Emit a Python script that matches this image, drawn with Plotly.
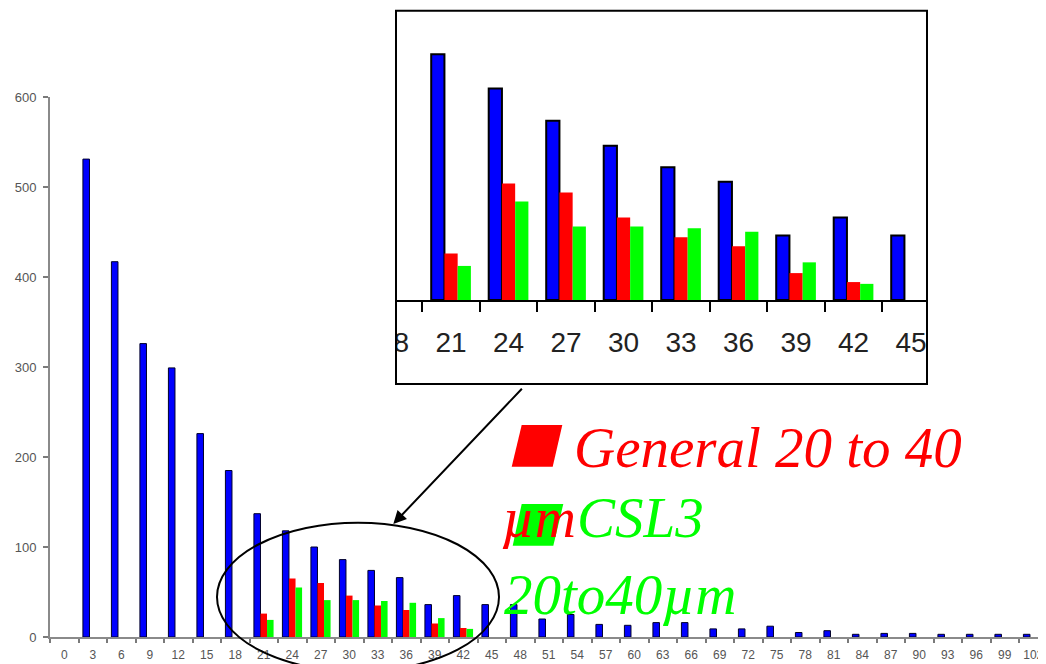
import plotly.graph_objects as go

# ---------------- data ----------------
categories = ["0", "3", "6", "9", "12", "15", "18", "21", "24", "27", "30", "33",
              "36", "39", "42", "45", "48", "51", "54", "57", "60", "63", "66",
              "69", "72", "75", "78", "81", "84", "87", "90", "93", "96", "99", "102"]

blue_values = [None, 531, 417, 326, 299, 226, 185, 137, 118, 100, 86, 74,
               66, 36, 46, 36, 36, 20, 25, 14, 13, 16, 16,
               9, 9, 12, 5, 7, 3, 4, 4, 3, 3, 3, 3]

sub_categories = ["21", "24", "27", "30", "33", "36", "39", "42"]
red_values = [26, 65, 60, 46, 35, 30, 15, 10]     # General 20 to 40 µm
green_values = [19, 55, 41, 41, 40, 38, 21, 9]    # CSL3 20to40µm

y_ticks = [0, 100, 200, 300, 400, 500, 600]

# ---------------- geometry helpers (screen pixels -> paper) ----------------
OFF = 8                      # page body margin
W, H = 1046 - OFF, 664 - OFF
def px(x):
    return (x - OFF) / W
def py(y):
    return 1 - (y - OFF) / H

BLUE, RED, GREEN = "#0000FF", "#FF0000", "#00FF00"

fig = go.Figure()

# main chart
fig.add_trace(go.Bar(x=categories, y=blue_values, marker=dict(color=BLUE, line=dict(color="#00002a", width=1)),
                     xaxis="x", yaxis="y", name="All"))
fig.add_trace(go.Bar(x=sub_categories, y=red_values, marker=dict(color=RED, line=dict(width=0)),
                     xaxis="x", yaxis="y", name="General 20 to 40 µm"))
fig.add_trace(go.Bar(x=sub_categories, y=green_values, marker=dict(color=GREEN, line=dict(width=0)),
                     xaxis="x", yaxis="y", name="CSL3 20to40µm"))

# inset (zoomed) chart
fig.add_trace(go.Bar(x=categories, y=blue_values, marker=dict(color=BLUE, line=dict(color="black", width=2)),
                     xaxis="x2", yaxis="y2", name="All"))
fig.add_trace(go.Bar(x=sub_categories, y=red_values, marker=dict(color=RED, line=dict(width=0)),
                     xaxis="x2", yaxis="y2", name="General 20 to 40 µm"))
fig.add_trace(go.Bar(x=sub_categories, y=green_values, marker=dict(color=GREEN, line=dict(width=0)),
                     xaxis="x2", yaxis="y2", name="CSL3 20to40µm"))

fig.update_layout(
    width=W, height=H,
    margin=dict(l=0, r=0, t=0, b=0),
    paper_bgcolor="white", plot_bgcolor="white",
    showlegend=False,
    barmode="group", bargap=0.31, bargroupgap=0,
    xaxis=dict(
        domain=[px(50), 1], anchor="y", type="category",
        categoryorder="array", categoryarray=categories,
        range=[-0.5, -0.5 + (1046 - 50) / 28.5],
        tickson="boundaries", ticks="outside", ticklen=4, tickwidth=1.5, tickcolor="#7a7a7a",
        showline=True, linecolor="#8a8a8a", linewidth=2,
        showgrid=False, zeroline=False,
        tickfont=dict(family="Liberation Sans, Arial, sans-serif", size=12, color="#555555"),
        ticklabelstandoff=6, automargin=False,
    ),
    yaxis=dict(
        domain=[py(637), py(97)], anchor="x",
        range=[0, 600], tickvals=y_ticks,
        ticks="outside", ticklen=5, tickwidth=1.5, tickcolor="#7a7a7a",
        showline=True, linecolor="#8a8a8a", linewidth=2,
        showgrid=False, zeroline=False,
        tickfont=dict(family="Liberation Sans, Arial, sans-serif", size=13, color="#555555"),
        ticklabelstandoff=4, automargin=False,
    ),
    xaxis2=dict(
        domain=[px(380), px(927)], anchor="y2", type="category",
        categoryorder="array", categoryarray=categories,
        range=[6.5 - (422.3 - 380) / 57.5, 6.5 + (927 - 422.3) / 57.5],
        tickson="boundaries", ticks="outside", ticklen=10, tickwidth=2, tickcolor="black",
        showline=True, linecolor="black", linewidth=2,
        showgrid=False, zeroline=False,
        tickfont=dict(family="Liberation Sans, Arial, sans-serif", size=28, color="#222222"),
        ticklabelstandoff=16, automargin=False,
    ),
    yaxis2=dict(
        domain=[py(300), py(10.7)], anchor="x2",
        range=[0, (300 - 10.7) / 1.793], visible=False,
    ),
)

shapes = []
# white mask to clip the inset's left overflow
shapes.append(dict(type="rect", xref="paper", yref="paper", layer="above",
                   x0=px(360), x1=px(395.5), y0=py(383), y1=py(0),
                   fillcolor="white", line=dict(width=0)))
# inset frame
shapes.append(dict(type="rect", xref="paper", yref="paper", layer="above",
                   x0=px(396), x1=px(927), y0=py(384), y1=py(10.7),
                   fillcolor="rgba(0,0,0,0)", line=dict(color="black", width=2)))
# ellipse highlighting the zoomed region
shapes.append(dict(type="circle", xref="paper", yref="paper", layer="above",
                   x0=px(217), x1=px(499), y0=py(671.5), y1=py(522.7),
                   line=dict(color="black", width=2)))
# legend swatches (italic squares)
def para(x_bl, x_br, x_tl, x_tr, y_b, y_t):
    return ("M {a},{b} L {c},{b} L {d},{e} L {f},{e} Z"
            .format(a=px(x_bl), b=py(y_b), c=px(x_br), d=px(x_tr), e=py(y_t), f=px(x_tl)))
shapes.append(dict(type="path", xref="paper", yref="paper", layer="above",
                   path=para(511.7, 552.7, 521.7, 562.3, 466.7, 425),
                   fillcolor=RED, line=dict(width=0)))
shapes.append(dict(type="path", xref="paper", yref="paper", layer="above",
                   path=para(512.7, 553.3, 521.7, 563.3, 545.7, 504),
                   fillcolor=GREEN, line=dict(width=0)))
fig.update_layout(shapes=shapes)

serif = "Liberation Serif, Times New Roman, serif"
S = 57
def txt(text, x_left, baseline, color):
    return dict(text=text, xref="paper", yref="paper", x=px(x_left), y=py(baseline - 0.3375 * S),
                xanchor="left", yanchor="middle", showarrow=False,
                font=dict(family=serif, size=S, color=color, style="italic"))

annotations = [
    txt("General 20 to 40", 572, 466.7, RED),
    txt("µm", 500, 536.7, RED),
    txt("CSL3", 575, 536.7, GREEN),
    txt("20to40µm", 502, 613.3, GREEN),
    dict(text="", xref="paper", yref="paper", x=px(393.3), y=py(524),
         axref="pixel", ayref="pixel", ax=523.3 - 393.3, ay=387.3 - 524,
         showarrow=True, arrowhead=2, arrowsize=1.3, arrowwidth=2, arrowcolor="black"),
]
fig.update_layout(annotations=annotations)

fig.write_html("out.html")
